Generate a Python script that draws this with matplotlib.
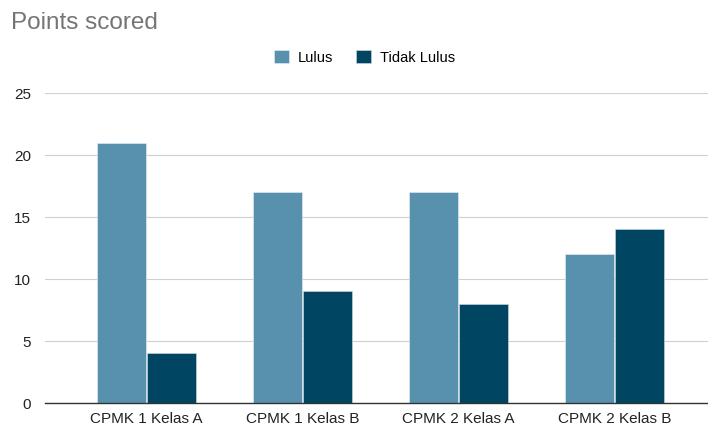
import numpy as np
import matplotlib
matplotlib.use("Agg")
import matplotlib.pyplot as plt

categories = ["CPMK 1 Kelas A", "CPMK 1 Kelas B", "CPMK 2 Kelas A", "CPMK 2 Kelas B"]
lulus = [21, 17, 17, 12]
tidak_lulus = [4, 9, 8, 14]
yticks = [0, 5, 10, 15, 20, 25]

plt.rcParams['font.family'] = ['Liberation Sans', 'DejaVu Sans']

fig = plt.figure(figsize=(7.08, 4.27), dpi=100)
ax = fig.add_axes([0.0636, 0.0539, 0.9364, 0.7261])

x = np.arange(len(categories))
w = 0.31
ax.bar(x - 0.16, lulus, w, color="#5891ad", edgecolor="#e8f0f4", linewidth=0.4, label="Lulus", zorder=3)
ax.bar(x + 0.16, tidak_lulus, w, color="#004561", edgecolor="#d0dde3", linewidth=0.4, label="Tidak Lulus", zorder=3)

ax.set_xlim(-0.65, 3.6)
ax.set_ylim(0, 25)
ax.set_yticks(yticks)
ax.set_xticks(x)
ax.set_xticklabels(categories, fontsize=11, color="#222222")
ax.tick_params(axis="y", labelsize=11, labelcolor="#222222", length=0, pad=10)
ax.tick_params(axis="x", length=0, pad=6)
ax.grid(axis="y", color="#d0d0d0", linewidth=0.8, zorder=0)
for s in ["top", "right", "left"]:
    ax.spines[s].set_visible(False)
ax.spines["bottom"].set_color("#333333")
ax.spines["bottom"].set_linewidth(1.0)
ax.spines["bottom"].set_zorder(4)

fig.text(0.016, 0.945, "Points scored", fontsize=17.5, color="#757575", va="center")
fig.legend(loc="center", bbox_to_anchor=(0.515, 0.864), ncol=2, frameon=False,
           fontsize=10.5, handlelength=1.0, handleheight=1.0, handletextpad=0.6,
           columnspacing=1.6)

fig.savefig("out.png", dpi=100)
